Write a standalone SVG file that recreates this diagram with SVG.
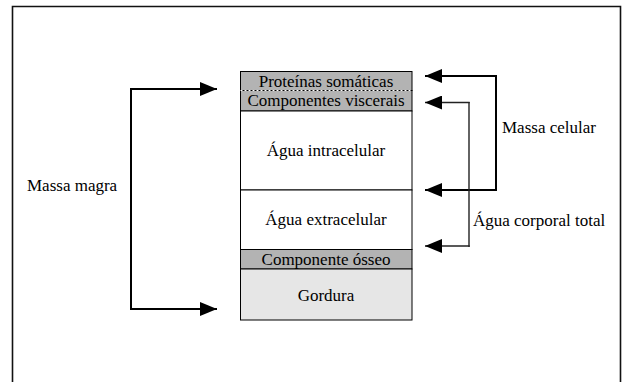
<svg xmlns="http://www.w3.org/2000/svg" width="622" height="382" viewBox="0 0 622 382">
<defs>
<style>
.c{text-anchor:middle}
.cell{stroke:#000;stroke-width:1}
.thick{fill:none;stroke:#000;stroke-width:2}
.thin{fill:none;stroke:#222;stroke-width:1.4}
</style>
<marker id="ah" markerUnits="userSpaceOnUse" markerWidth="18" markerHeight="14" refX="17" refY="7" orient="auto">
<path d="M0,0 L17,7 L0,14 z" fill="#000"/>
</marker>
</defs>
<rect width="622" height="382" fill="#fff"/>
<path d="M12.5,383 V6.5 H620.5 V383" fill="none" stroke="#111" stroke-width="1.6"/>

<g font-family="'Liberation Serif', 'Times New Roman', serif" font-size="17" fill="#000">
<g id="proteinas">
<rect x="240.5" y="71.5" width="171.5" height="19" fill="#b3b3b3" class="cell"/>
<text class="c" x="326" y="86.5">Proteínas somáticas</text>
</g>
<g id="viscerais">
<rect x="240.5" y="90.5" width="171.5" height="20.5" fill="#b3b3b3" class="cell"/>
<text class="c" x="326" y="106">Componentes viscerais</text>
</g>
<g id="intracelular">
<rect x="240.5" y="111" width="171.5" height="79" fill="#fff" class="cell"/>
<text class="c" x="326" y="156">Água intracelular</text>
</g>
<g id="extracelular">
<rect x="240.5" y="190" width="171.5" height="59.5" fill="#fff" class="cell"/>
<text class="c" x="326" y="225">Água extracelular</text>
</g>
<g id="osseo">
<rect x="240.5" y="249.5" width="171.5" height="19.5" fill="#b3b3b3" class="cell"/>
<text class="c" x="326" y="265">Componente ósseo</text>
</g>
<g id="gordura">
<rect x="240.5" y="269" width="171.5" height="51" fill="#e6e6e6" class="cell"/>
<text class="c" x="326" y="301">Gordura</text>
</g>
<line x1="240.5" y1="90.5" x2="412" y2="90.5" stroke="#fff" stroke-width="1" stroke-dasharray="2,2"/>

<g id="labels">
<text x="27" y="191">Massa magra</text>
<text x="502" y="133">Massa celular</text>
<text x="473" y="226">Água corporal total</text>
</g>
</g>

<g id="connectors">
<path class="thick" d="M131,88 V309" />
<path class="thick" d="M130,89 H217" marker-end="url(#ah)"/>
<path class="thick" d="M130,309 H217" marker-end="url(#ah)"/>
<path class="thick" d="M496,75 V191"/>
<path class="thick" d="M497,76 H425" marker-end="url(#ah)"/>
<path class="thick" d="M497,190 H425" marker-end="url(#ah)"/>
<path class="thin" d="M469,102 V247"/>
<path class="thin" d="M469.7,102.5 H425" marker-end="url(#ah)"/>
<path class="thin" d="M469.7,246 H425" marker-end="url(#ah)"/>
</g>
</svg>
